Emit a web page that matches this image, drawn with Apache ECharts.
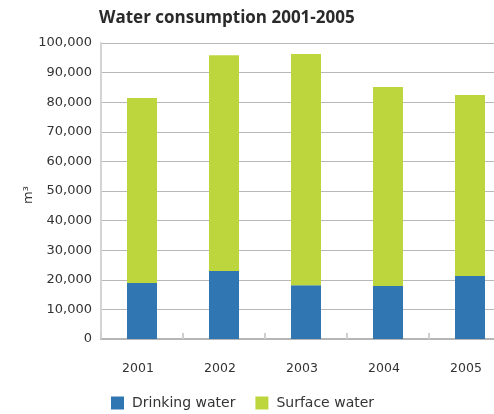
<!DOCTYPE html>
<html><head><meta charset="utf-8">
<script src="https://cdn.jsdelivr.net/npm/echarts@6/dist/echarts.min.js"></script>
<style>html,body{margin:0;padding:0;background:#fff;overflow:hidden}#c{width:520px;height:414px}</style>
</head><body><div id="c"></div>
<script>
const years = ['2001','2002','2003','2004','2005'];
const drinkingWater = [18900, 23000, 18200, 17900, 21300];
const surfaceWater = [62500, 72900, 78100, 67200, 61100];
const yTicks = {min: 0, max: 100000, interval: 10000};
const seriesNames = ['Drinking water', 'Surface water'];

const chart = echarts.init(document.getElementById('c'), null, {renderer: 'canvas'});
const font = '"DejaVu Sans", "Noto Sans", sans-serif';
chart.setOption({
  animation: false,
  textStyle: {fontFamily: font},
  title: {
    text: 'Water consumption 2001-2005',
    left: 94, top: 5,
    textStyle: {fontFamily: '"Open Sans", sans-serif', fontWeight: 'bold', fontSize: 17, color: '#2a2a2a'}
  },
  legend: {
    left: 106, top: 391,
    itemWidth: 13, itemHeight: 13, itemGap: 20,
    icon: 'rect',
    textStyle: {fontFamily: font, fontSize: 14, color: '#333', padding: [0, 0, 0, 3]},
    data: seriesNames
  },
  grid: {left: 101, top: 43, bottom: 75, right: 9, containLabel: false},
  xAxis: {
    type: 'category',
    data: years,
    axisLine: {lineStyle: {color: '#b5b5b5', width: 2}},
    axisTick: {show: true, inside: true, length: 6, lineStyle: {color: '#cfcfcf', width: 2}},
    axisLabel: {margin: 23, fontSize: 12.5, color: '#333', fontFamily: font, padding: [0, 8, 0, 0]}
  },
  yAxis: {
    type: 'value',
    min: yTicks.min, max: yTicks.max, interval: yTicks.interval,
    name: 'm³',
    nameLocation: 'middle',
    nameGap: 66,
    nameMoveOverlap: false,
    nameRotate: 90,
    nameTextStyle: {fontSize: 13, color: '#333', fontFamily: font, padding: [0, 8, 0, 0]},
    axisLine: {show: true, lineStyle: {color: '#d4d4d4', width: 2}},
    axisTick: {show: false},
    splitLine: {lineStyle: {color: '#b8b8b8', width: 1.2}},
    axisLabel: {
      margin: 9, fontSize: 13, color: '#333', fontFamily: font,
      formatter: v => v.toLocaleString('en-US')
    }
  },
  series: [
    {name: seriesNames[0], type: 'bar', stack: 'w', data: drinkingWater, barWidth: 30,
     itemStyle: {color: '#2f76b2'}},
    {name: seriesNames[1], type: 'bar', stack: 'w', data: surfaceWater, barWidth: 30,
     itemStyle: {color: '#bdd63d'}}
  ]
});
</script></body></html>
